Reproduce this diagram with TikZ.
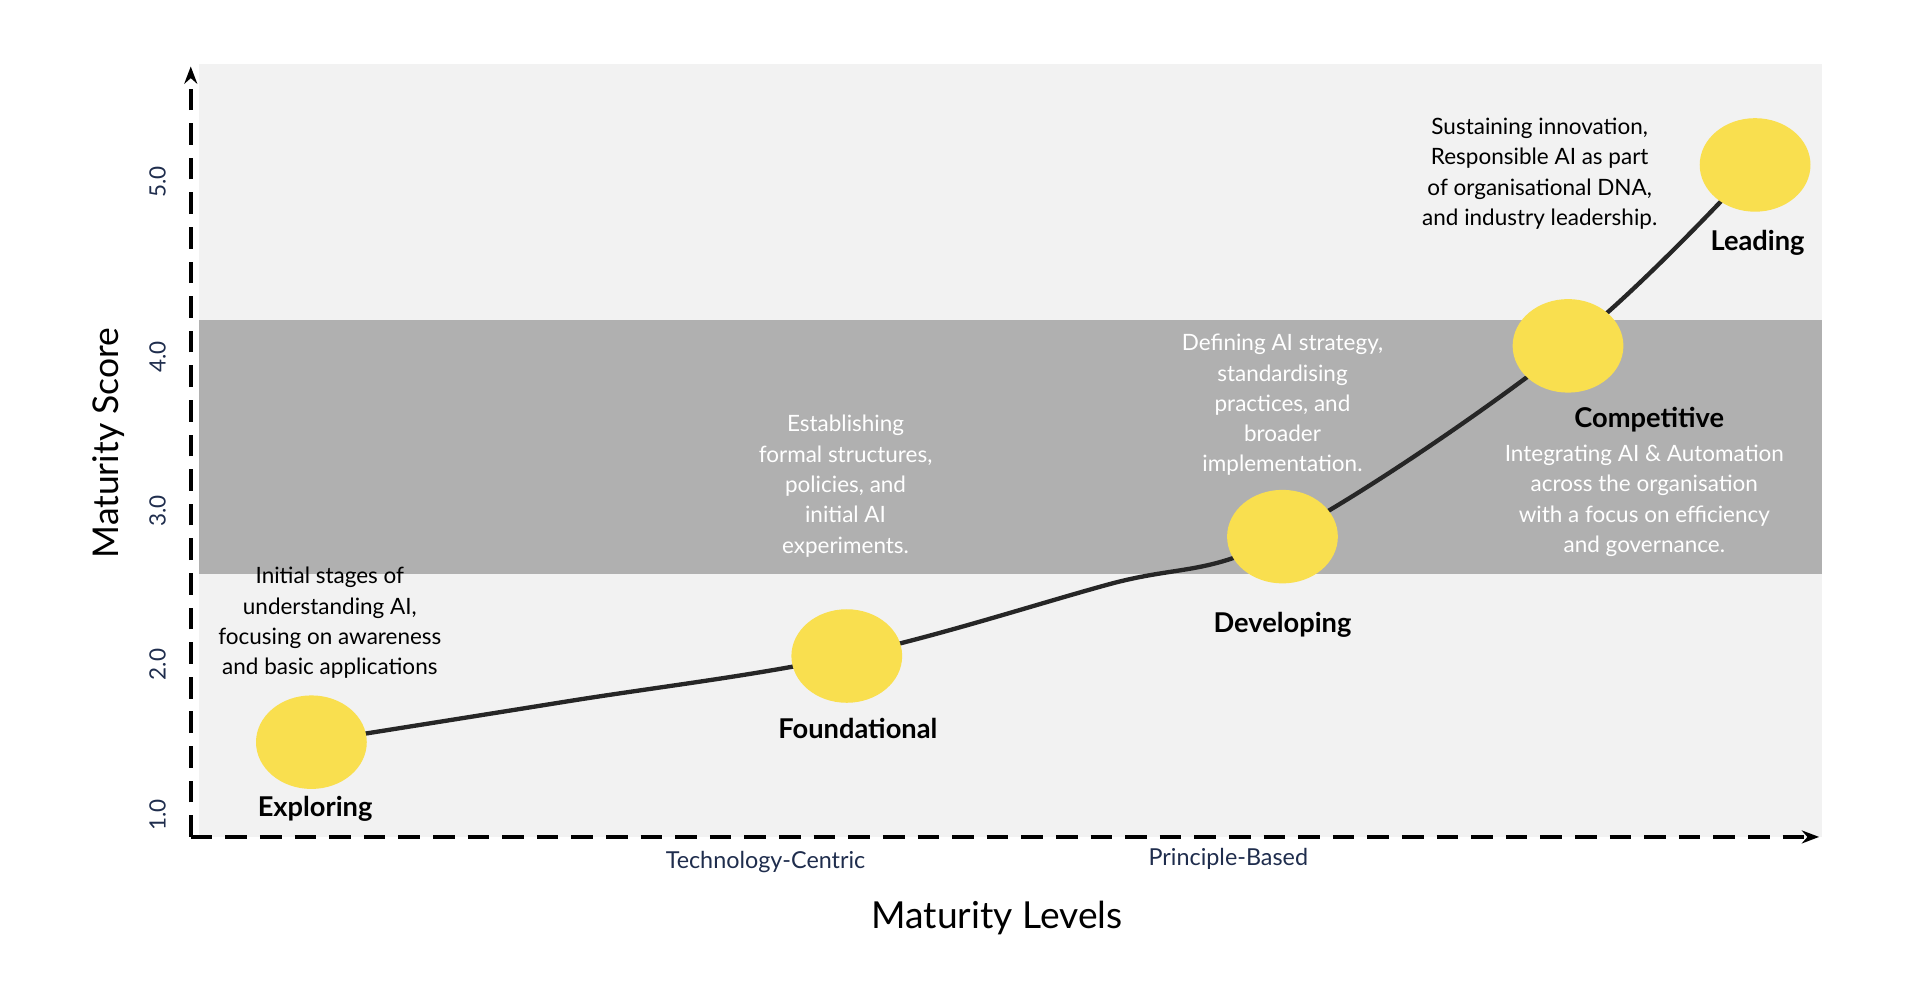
\documentclass[tikz,border=0pt]{standalone}
\usepackage{fontspec}
\setmainfont{Lato}
\usetikzlibrary{positioning,arrows.meta,shapes.geometric}
\definecolor{lightbg}{HTML}{F2F2F2}
\definecolor{band}{HTML}{B0B0B0}
\definecolor{disc}{HTML}{F9DF4F}
\definecolor{navy}{HTML}{1F2D4D}
\tikzset{every picture/.style={line width=0.75pt}}
\tikzset{
  stage/.style={ellipse,fill=disc,minimum width=0.9cm,minimum height=0.76cm,inner sep=0pt},
  stagename/.style={font=\fontsize{6.3}{7}\selectfont\bfseries},
  desc/.style={font=\fontsize{5.2}{7}\selectfont,align=center},
  ticklabel/.style={font=\fontsize{5.2}{6}\selectfont,text=navy,rotate=90},
  axisline/.style={dashed,dash pattern=on 5pt off 3pt,line width=1pt,-{Stealth[length=4pt]}}
}
\begin{document}
\begin{tikzpicture}
\useasboundingbox (0,0) rectangle (15.6,8.1);
\fill[lightbg] (1.62,1.3) rectangle (14.8,7.58);
\fill[band] (1.62,3.44) rectangle (14.8,5.5);
%
\draw[axisline] (1.55,1.3) -- (1.55,7.56);
\draw[axisline] (1.55,1.3) -- (14.78,1.3);
%
\foreach \y/\t in {1.48/1.0,2.70/2.0,3.95/3.0,5.20/4.0,6.62/5.0}
  \node[ticklabel] at (1.28,\y) {\t};
\node[rotate=90,font=\fontsize{8.2}{9}\selectfont] (score) at (0.88,4.5) {Maturity Score};
\node[font=\fontsize{8.6}{10}\selectfont] (levels) at (8.1,0.64) {Maturity Levels};
\node[font=\fontsize{5.4}{6}\selectfont,text=navy] (tech) at (6.22,1.1) {Technology-Centric};
\node[font=\fontsize{5.4}{6}\selectfont,text=navy] (princ) at (9.98,1.12) {Principle-Based};
%
\draw[line width=1pt,black!85] plot[smooth,tension=0.6] coordinates
  {(2.53,2.07) (4.6,2.4) (6.88,2.77) (9.0,3.35) (10.42,3.74) (12.74,5.29) (14.26,6.76)};
%
\node[stage] (explore) at (2.53,2.07) {};
\node[stage] (found) at (6.88,2.77) {};
\node[stage] (develop) at (10.42,3.74) {};
\node[stage] (compete) at (12.74,5.29) {};
\node[stage] (lead) at (14.26,6.76) {};
%
\node[stagename] at (2.56,1.53) {Exploring};
\node[stagename] at (6.97,2.18) {Foundational};
\node[stagename] at (10.42,3.02) {Developing};
\node[stagename] at (13.40,4.69) {Competitive};
\node[stagename] at (14.28,6.13) {Leading};
%
\node[desc] at (2.68,3.04) {Initial stages of\\understanding AI,\\focusing on awareness\\and basic applications};
\node[desc,text=white] at (6.87,4.15) {Establishing\\formal structures,\\policies, and\\initial AI\\experiments.};
\node[desc,text=white] at (10.42,4.81) {Defining AI strategy,\\standardising\\practices, and\\broader\\implementation.};
\node[desc,text=white] at (13.36,4.03) {Integrating AI \& Automation\\across the organisation\\with a focus on efficiency\\and governance.};
\node[desc] at (12.51,6.69) {Sustaining innovation,\\Responsible AI as part\\of organisational DNA,\\and industry leadership.};
\end{tikzpicture}
\end{document}
